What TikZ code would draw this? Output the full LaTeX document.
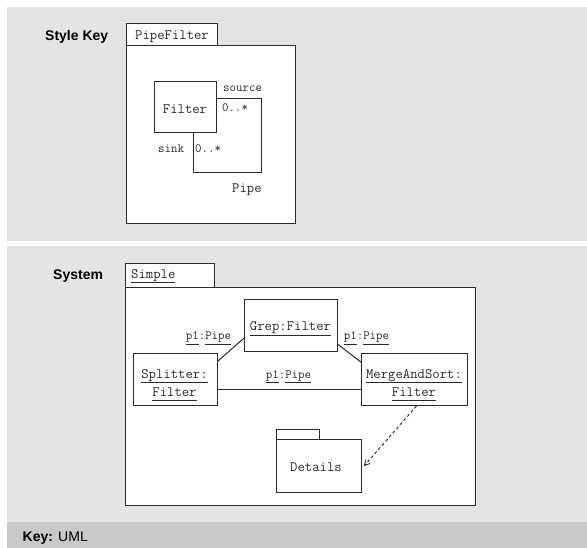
\documentclass[tikz,border=0pt]{standalone}
\usepackage{fontspec}
\setmainfont{Liberation Sans}
\usetikzlibrary{arrows.meta}
\definecolor{panel}{HTML}{E4E4E4}
\definecolor{keybar}{HTML}{C9C9C9}
\definecolor{ink}{HTML}{2A2A2A}
% underline with a fixed drop below the baseline
\newcommand\ulin[1]{\leavevmode\setbox0\hbox{#1}\rlap{\rule[-4.6pt]{\wd0}{1pt}}\box0}

\begin{document}
\begin{tikzpicture}[x=1pt,y=-1pt,
  box/.style={draw=ink, line width=1pt, fill=white, inner sep=0pt, anchor=north west},
  mono/.style={font=\ttfamily\fontsize{14.3}{18}\selectfont, text=ink, inner sep=0pt},
  small/.style={font=\ttfamily\fontsize{12.6}{14}\selectfont, text=ink, inner sep=0pt},
  head/.style={font=\bfseries\fontsize{14}{16}\selectfont, text=black, inner sep=0pt, anchor=base west},
  conn/.style={draw=ink, line width=1pt}]

\useasboundingbox (0,0) rectangle (587,548);
\fill[white] (0,0) rectangle (587,548);
\fill[panel] (7,7) rectangle (587,241);
\fill[panel] (7,246) rectangle (587,522);
\fill[keybar] (7,522) rectangle (587,548);

% ---- style key: PipeFilter ----
\node[head] (stylekey) at (45,40.5) {Style Key};
\node[box, minimum width=91, minimum height=22] (pftab) at (126,23) {};
\node[box, minimum width=169, minimum height=178] (pfbody) at (126,45) {};
\node[mono, anchor=base west] (pfname) at (135,39.5) {PipeFilter};

\node[box, minimum width=68, minimum height=74] (pipe) at (193,98) {};
\node[box, minimum width=62, minimum height=51] (filter) at (154,81) {};
\node[mono, anchor=base] (filtername) at (185,113.5) {Filter};
\node[small, anchor=base west] (source) at (223,91.5) {source};
\node[small, anchor=base west] (srcmult) at (222,112) {0..*};
\node[small, anchor=base west] (sink) at (158,153) {sink};
\node[small, anchor=base west] (sinkmult) at (195,153) {0..*};
\node[mono, anchor=base west] (pipename) at (232,193) {Pipe};

% ---- system: Simple ----
\node[head] (system) at (53,279.5) {System};
\node[box, minimum width=89, minimum height=24] (simtab) at (125,263) {};
\node[box, minimum width=350, minimum height=218] (simbody) at (125,287) {};
\node[mono, anchor=base west] (simname) at (131,278.5) {\ulin{Simple}};

\node[box, minimum width=93, minimum height=52] (grep) at (244,299) {};
\node[box, minimum width=84, minimum height=52] (split) at (132.5,353) {};
\node[box, minimum width=106, minimum height=52] (merge) at (361,353) {};
\node[mono, anchor=base] (grepname) at (290.5,331) {\ulin{Grep:Filter}};
% two-line names: the base anchor sits on the last line
\node[mono, anchor=base, align=center] (splitname) at (174.5,396) {\ulin{Splitter:}\\\ulin{Filter}};
\node[mono, anchor=base, align=center] (mergename) at (414,396) {\ulin{MergeAndSort:}\\\ulin{Filter}};

\draw[conn] (split.23) -- (grep.195.5);
\draw[conn] (grep.-22) -- (merge.162);
\draw[conn] ([yshift=-10pt]split.east) -- ([yshift=-10pt]merge.west);

\node[small, anchor=base] (pipeA) at (208.5,340) {\ulin{p1}:\ulin{Pipe}};
\node[small, anchor=base] (pipeB) at (366.5,340) {\ulin{p1}:\ulin{Pipe}};
\node[small, anchor=base] (pipeC) at (288.5,378.5) {\ulin{p1}:\ulin{Pipe}};

% package Details
\node[box, minimum width=43, minimum height=10] (dettab) at (276,429) {};
\node[box, minimum width=85, minimum height=53] (details) at (276,439) {};
\node[mono, anchor=base] (detname) at (316,471.5) {Details};

\draw[conn, line width=0.9pt, dash pattern=on 3pt off 2.5pt,
  -{Straight Barb[length=5pt,width=6pt]}]
  ([xshift=2pt]merge.south) -- ([xshift=2pt]details.east);

% ---- key bar ----
\node[inner sep=0pt, anchor=base west, font=\fontsize{14}{16}\selectfont] (keytext) at (22.5,541.5) {\textbf{Key:} UML};
\end{tikzpicture}
\end{document}
